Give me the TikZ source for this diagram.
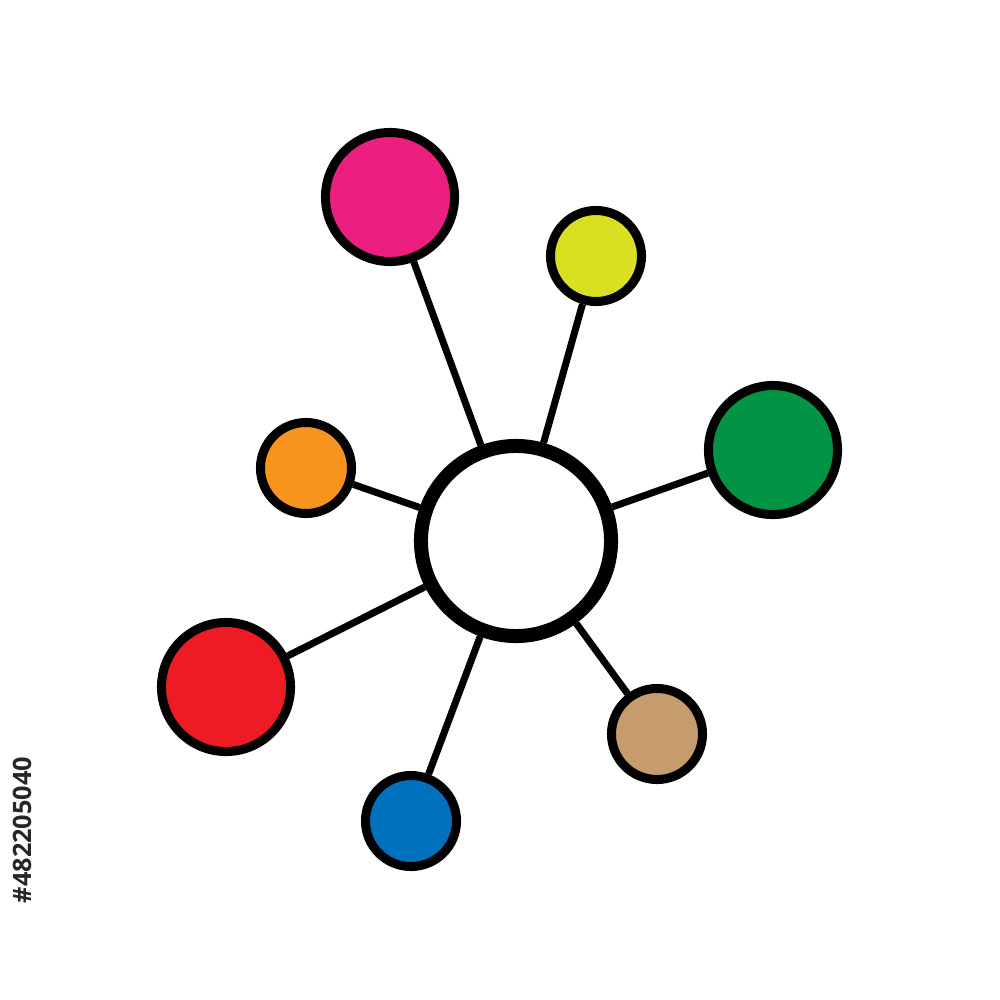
\documentclass[tikz,border=0pt]{standalone}
\usepackage{fontspec}
\setsansfont{Open Sans}
\definecolor{hubpink}{RGB}{236,31,128}
\definecolor{hubyellow}{RGB}{217,224,33}
\definecolor{hubgreen}{RGB}{0,148,68}
\definecolor{huborange}{RGB}{247,148,29}
\definecolor{hubred}{RGB}{237,28,36}
\definecolor{hubblue}{RGB}{0,113,188}
\definecolor{hubtan}{RGB}{198,156,109}
\tikzset{
    big/.style = {shape = circle, draw, line width = 0.09cm, minimum size = 1.29cm, inner sep = 0pt},
    small/.style = {shape = circle, draw, line width = 0.09cm, minimum size = 0.91cm, inner sep = 0pt},
    spoke/.style = {line width = 0.07cm}
}

\begin{document}
\begin{tikzpicture}[x = 0.01cm, y = -0.01cm]
    \useasboundingbox (0,0) rectangle (1000,1000);
    \node[shape = circle, draw, fill = white, line width = 0.14cm, minimum size = 1.9cm] (hub) at (516,541) {};
    \node[big, fill = hubpink] (P) at (390,197) {};
    \node[small, fill = hubyellow] (Y) at (596,256) {};
    \node[big, fill = hubgreen] (G) at (773,450) {};
    \node[small, fill = huborange] (O) at (306,468) {};
    \node[big, fill = hubred] (R) at (226,687) {};
    \node[small, fill = hubblue] (B) at (411,821) {};
    \node[small, fill = hubtan] (T) at (657,734) {};
    \foreach \n in {P, Y, G, O, R, B, T}
        \draw[spoke] (hub) -- (\n);
    \node[rotate = 90, text = black!85, font = \sffamily\bfseries\fontsize{7.2pt}{9pt}\selectfont] (id) at (22,830) {\#482205040};
\end{tikzpicture}
\end{document}
